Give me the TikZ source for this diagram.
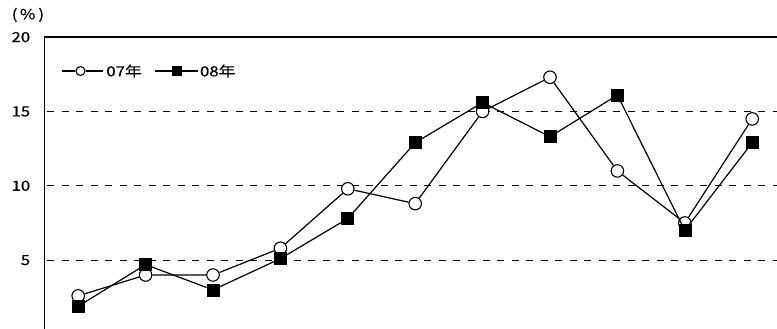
\documentclass[tikz,border=0pt]{standalone}
\usepackage{fontspec}
\setmainfont{Noto Sans CJK JP}[FakeStretch=1.2, FakeBold=0.5]
\begin{document}
\begin{tikzpicture}[x=67.4pt, y=14.87pt, font=\fontsize{14}{16}\selectfont, line join=miter,
    ptA/.style={draw, circle, fill=white, line width=1.1pt, inner sep=0pt, minimum size=12.5pt},
    ptB/.style={draw, rectangle, fill=black, line width=0.6pt, inner sep=0pt, minimum size=12pt},
    keyA/.style={ptA, minimum size=9pt},
    keyB/.style={ptB, minimum size=8.5pt},
    grid/.style={line width=0.8pt, dash pattern=on 7pt off 7.5pt, dash phase=-3pt},
    serie/.style={line width=1.2pt}]
    \useasboundingbox (-0.660, 0.437) rectangle (10.868, 22.495);
    % frame and grid
    \draw[grid] (0, 5) -- (10.868, 5);
    \draw[grid] (0, 10) -- (10.868, 10);
    \draw[grid] (0, 15) -- (10.868, 15);
    \draw[line width=1.4pt] (0, 20) -- (10.868, 20);
    \draw[line width=1.6pt, line cap=rect] (0, 0.3) -- (0, 20);
    \node[anchor=east] (t5) at (-0.16, 5) {5};
    \node[anchor=east] (t10) at (-0.16, 10) {10};
    \node[anchor=east] (t15) at (-0.16, 15) {15};
    \node[anchor=east] (t20) at (-0.16, 20) {20};
    \node (unit) at (-0.245, 21.49) {(\kern2.5pt\%\kern3pt)};

    % 07
    \node[ptA] (a1) at (0.5, 2.6) {};
    \node[ptA] (a2) at (1.5, 4.0) {};
    \node[ptA] (a3) at (2.5, 4.0) {};
    \node[ptA] (a4) at (3.5, 5.8) {};
    \node[ptA] (a5) at (4.5, 9.8) {};
    \node[ptA] (a6) at (5.5, 8.8) {};
    \node[ptA] (a7) at (6.5, 15.0) {};
    \node[ptA] (a8) at (7.5, 17.3) {};
    \node[ptA] (a9) at (8.5, 11.0) {};
    \node[ptA] (a10) at (9.5, 7.5) {};
    \node[ptA] (a11) at (10.5, 14.5) {};
    \draw[serie] (a1) -- (a2) -- (a3) -- (a4) -- (a5) -- (a6) -- (a7) -- (a8) -- (a9) -- (a10) -- (a11);

    % 08
    \node[ptB] (b1) at (0.5, 1.9) {};
    \node[ptB] (b2) at (1.5, 4.7) {};
    \node[ptB] (b3) at (2.5, 3.0) {};
    \node[ptB] (b4) at (3.5, 5.1) {};
    \node[ptB] (b5) at (4.5, 7.8) {};
    \node[ptB] (b6) at (5.5, 12.9) {};
    \node[ptB] (b7) at (6.5, 15.6) {};
    \node[ptB] (b8) at (7.5, 13.3) {};
    \node[ptB] (b9) at (8.5, 16.1) {};
    \node[ptB] (b10) at (9.5, 7.0) {};
    \node[ptB] (b11) at (10.5, 12.9) {};
    \draw[serie] (b1) -- (b2) -- (b3) -- (b4) -- (b5) -- (b6) -- (b7) -- (b8) -- (b9) -- (b10) -- (b11);

    % legend
    \coordinate (ka0) at (0.26, 17.72);
    \node[keyA] (ka) at (0.534, 17.72) {};
    \coordinate (ka1) at (0.868, 17.72);
    \draw[serie] (ka0) -- (ka) -- (ka1);
    \node[anchor=west, inner sep=1pt] (kta) at (0.90, 17.72) {07年};
    \coordinate (kb0) at (1.64, 17.72);
    \node[keyB] (kb) at (1.966, 17.72) {};
    \coordinate (kb1) at (2.277, 17.72);
    \draw[serie] (kb0) -- (kb) -- (kb1);
    \node[anchor=west, inner sep=1pt] (ktb) at (2.29, 17.72) {08年};
\end{tikzpicture}
\end{document}
